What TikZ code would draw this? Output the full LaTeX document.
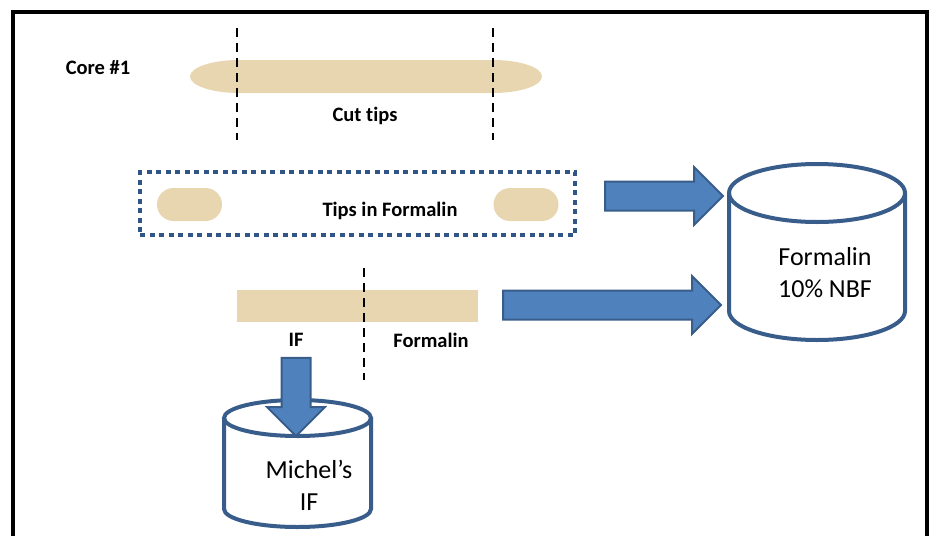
\documentclass[tikz,border=0pt]{standalone}
\usepackage{fontspec}
\setmainfont{Carlito}[Ligatures=NoCommon]
\usepackage{tikz}
\usetikzlibrary{positioning,calc,shapes.arrows,shapes.misc}
\definecolor{wood}{RGB}{232,214,176}
\definecolor{arrowblue}{RGB}{79,129,189}
\definecolor{arrowedge}{RGB}{56,93,138}
\definecolor{dotblue}{RGB}{50,85,135}
% block arrow drawn as a node stretched between two named points
\newcommand{\fatarrow}[3]{%
  \path let \p1=($(#3)-(#2)$), \n1={veclen(\x1,\y1)}, \n2={atan2(\y1,\x1)} in
    node[blockarr, minimum height=\n1, rotate=\n2, anchor=tail] (#1) at (#2) {};}
% container outline: center x, top y, bottom y, x radius, y radius
\newcommand{\tankline}[5]{%
  \draw[tankedge, fill=white] (#1-#4,#2) -- (#1-#4,#3) arc[start angle=180, end angle=0, x radius=#4, y radius=#5] -- (#1+#4,#2);
  \draw[tankedge] (#1,#2) ellipse[x radius=#4, y radius=#5];}

\begin{document}
\begin{tikzpicture}[x=1pt, y=-1pt,
  lbl/.style={font=\bfseries\fontsize{20.5}{24}\selectfont, inner sep=0pt},
  tanktext/.style={font=\fontsize{26}{32}\selectfont, align=center, inner sep=0pt},
  tankedge/.style={draw=arrowedge, line width=4pt},
  blockarr/.style={single arrow, draw=arrowedge, fill=arrowblue, line width=2pt, inner xsep=0pt, inner ysep=13.5pt,
    single arrow head extend=14.5pt, single arrow tip angle=90},
  cutline/.style={black, line width=2.8pt, dash pattern=on 9pt off 6pt},
  tipbox/.style={rounded rectangle, fill=wood, minimum width=65pt, minimum height=33pt, inner sep=0pt}]
\useasboundingbox (0,0) rectangle (935,536);
\draw[line width=4pt] (13,536) |- (927,12) -- (927,536);

% whole core and its cut lines
\fill[wood] (239,60) -- (493,60) arc[start angle=-90, end angle=90, x radius=49, y radius=16.5]
  -- (239,93) arc[start angle=90, end angle=270, x radius=49, y radius=16.5] -- cycle;
\draw[cutline] (237,28) -- (237,140);
\draw[cutline] (493,28) -- (493,140);
\node[lbl] (core) at (98,68) {Core \#1};
\node[lbl] (cut) at (365,116) {Cut tips};

% tips in formalin
\node[draw=dotblue, line width=4pt, dash pattern=on 5pt off 4.5pt, minimum width=435pt, minimum height=63pt, inner sep=0pt] (tipsbox) at (357.5,203.5) {};
\node[tipbox] (tipL) at (189.5,204.5) {};
\node[tipbox] (tipR) at (526,204.5) {};
\node[lbl] (tipslbl) at (390,211) {Tips in Formalin};

% remaining core, split
\node[fill=wood, minimum width=241pt, minimum height=32pt, inner sep=0pt] (rest) at (357.5,306) {};
\draw[cutline] (364,268) -- (364,380);
\node[lbl] (iflbl) at (296,340) {IF};
\node[lbl] (fmlbl) at (431,340) {Formalin};

% containers
\tankline{817}{193}{311}{88}{29}
\node[tanktext] (nbf) at (825,272.5) {Formalin\\10\% NBF};
\tankline{297.5}{418}{509}{73.5}{18}
\node[tanktext] (mif) at (309,485) {Michel’s\\IF};

% arrows
\coordinate (a1s) at (604,196);
\coordinate (a1e) at (722,196);
\coordinate (a2s) at (502,305);
\coordinate (a2e) at (720,305);
\coordinate (a3s) at ($(iflbl.south)+(0,10)$);
\coordinate (a3e) at (a3s |- 0,435);
\fatarrow{arr1}{a1s}{a1e}
\fatarrow{arr2}{a2s}{a2e}
\fatarrow{arr3}{a3s}{a3e}
\end{tikzpicture}
\end{document}
